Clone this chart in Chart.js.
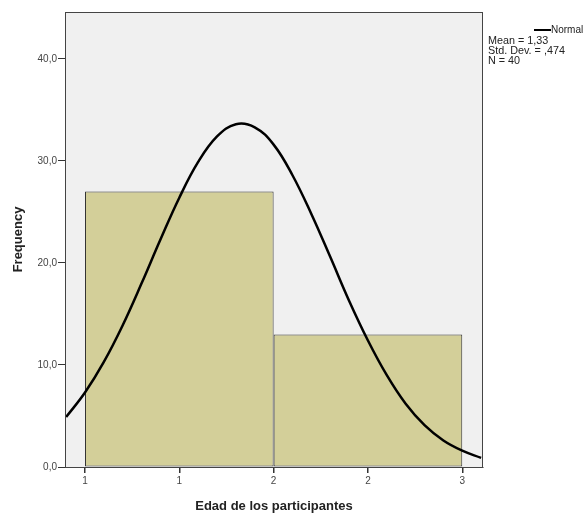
<!DOCTYPE html>
<html>
<head>
<meta charset="utf-8">
<script src="https://cdn.jsdelivr.net/npm/chart.js@4"></script>
<style>
    html, body { margin: 0; padding: 0; background: #ffffff; }
    #wrap { width: 587px; height: 514px; }
</style>
</head>
<body>
<div id="wrap"><canvas id="histChart" width="587" height="514"></canvas></div>
<script>
// Histograma: Edad de los participantes
const binCenters = [1.5, 2.5];
const frequencies = [27, 13];

// Curva normal
const curveX = [0.9, 1.0, 1.1, 1.2, 1.3, 1.4, 1.5, 1.6, 1.7, 1.8, 1.9, 2.0, 2.1, 2.2, 2.3, 2.4, 2.5, 2.6, 2.7, 2.8, 2.9, 3.0, 3.1];
const curveY = [4.9, 7.3, 10.3, 13.9, 18.0, 22.3, 26.4, 29.9, 32.4, 33.6, 33.3, 31.6, 28.6, 24.8, 20.6, 16.3, 12.4, 9.0, 6.2, 4.1, 2.6, 1.6, 0.9];

const xTickValues = [1, 1.5, 2, 2.5, 3];
const xTickLabels = ['1', '1', '2', '2', '3'];
const yTickValues = [0, 10, 20, 30, 40];
const yTickLabels = ['0,0', '10,0', '20,0', '30,0', '40,0'];

const statsLines = ['Mean = 1,33', 'Std. Dev. = ,474', 'N = 40'];

const fontFamily = "Arial, 'Liberation Sans', sans-serif";

// Fondo gris y marco del área del gráfico
const marcoPlugin = {
    id: 'marco',
    beforeDraw(chart) {
        const { ctx, chartArea: a } = chart;
        ctx.save();
        ctx.fillStyle = '#f0f0f0';
        ctx.fillRect(a.left, a.top, a.right - a.left, a.bottom - a.top);
        ctx.restore();
    },
    afterDraw(chart) {
        const { ctx, chartArea: a } = chart;
        ctx.save();
        ctx.strokeStyle = '#444444';
        ctx.lineWidth = 1;
        ctx.strokeRect(a.left + 0.5, a.top + 0.5, a.right - a.left - 1, a.bottom - a.top);

        // Leyenda a la derecha
        const lx = a.right + 5;
        ctx.strokeStyle = '#000000';
        ctx.lineWidth = 2;
        ctx.beginPath();
        ctx.moveTo(lx + 46, a.top + 18);
        ctx.lineTo(lx + 63, a.top + 18);
        ctx.stroke();
        ctx.fillStyle = '#222222';
        ctx.font = '10px ' + fontFamily;
        ctx.textBaseline = 'middle';
        ctx.textAlign = 'left';
        ctx.fillText('Normal', lx + 63, a.top + 18);
        ctx.font = '10.8px ' + fontFamily;
        statsLines.forEach((t, i) => {
            ctx.fillText(t, lx, a.top + 29 + i * 10);
        });
        ctx.restore();
    }
};

const ctx = document.getElementById('histChart').getContext('2d');

new Chart(ctx, {
    type: 'bar',
    data: {
        datasets: [{
            type: 'line',
            label: 'Normal',
            data: curveX.map((x, i) => ({ x: x, y: curveY[i] })),
            borderColor: '#000000',
            borderWidth: 2.5,
            pointRadius: 0,
            tension: 0.4,
            fill: false,
            order: 0
        }, {
            type: 'bar',
            label: 'Frequency',
            data: binCenters.map((x, i) => ({ x: x, y: frequencies[i] })),
            backgroundColor: '#d3cf99',
            borderColor: '#333333',
            borderWidth: 1,
            borderSkipped: false,
            categoryPercentage: 1.0,
            barPercentage: 2.0,
            order: 1
        }]
    },
    options: {
        responsive: false,
        animation: false,
        layout: {
            padding: { top: 12, right: 104, left: 11, bottom: 0 }
        },
        plugins: {
            legend: { display: false },
            tooltip: { enabled: false }
        },
        scales: {
            x: {
                type: 'linear',
                min: 0.894,
                max: 3.11,
                offset: false,
                afterBuildTicks(scale) {
                    scale.ticks = xTickValues.map(v => ({ value: v }));
                },
                afterFit(scale) {
                    scale.height = 47;
                },
                grid: {
                    offset: false,
                    drawOnChartArea: false,
                    drawTicks: true,
                    tickLength: 6,
                    lineWidth: 1.5,
                    color: '#333333'
                },
                border: { display: true, color: '#333333' },
                ticks: {
                    autoSkip: false,
                    maxRotation: 0,
                    padding: 2,
                    color: '#444444',
                    font: { size: 10, family: fontFamily },
                    callback: function(value, index) {
                        return xTickLabels[index];
                    }
                },
                title: {
                    display: true,
                    text: 'Edad de los participantes',
                    color: '#222222',
                    padding: { top: 8, bottom: 0 },
                    font: { size: 13, weight: 'bold', family: fontFamily }
                }
            },
            y: {
                min: 0,
                max: 44.6,
                afterBuildTicks(scale) {
                    scale.ticks = yTickValues.map(v => ({ value: v }));
                },
                afterFit(scale) {
                    scale.width = 54;
                },
                grid: {
                    drawOnChartArea: false,
                    drawTicks: true,
                    tickLength: 7,
                    color: '#333333'
                },
                border: { display: true, color: '#333333' },
                ticks: {
                    padding: 1,
                    color: '#444444',
                    font: { size: 10, family: fontFamily },
                    callback: function(value, index) {
                        return yTickLabels[index];
                    }
                },
                title: {
                    display: true,
                    text: 'Frequency',
                    color: '#222222',
                    padding: { top: 0, bottom: 12 },
                    font: { size: 13, weight: 'bold', family: fontFamily }
                }
            }
        }
    },
    plugins: [marcoPlugin]
});
</script>
</body>
</html>
